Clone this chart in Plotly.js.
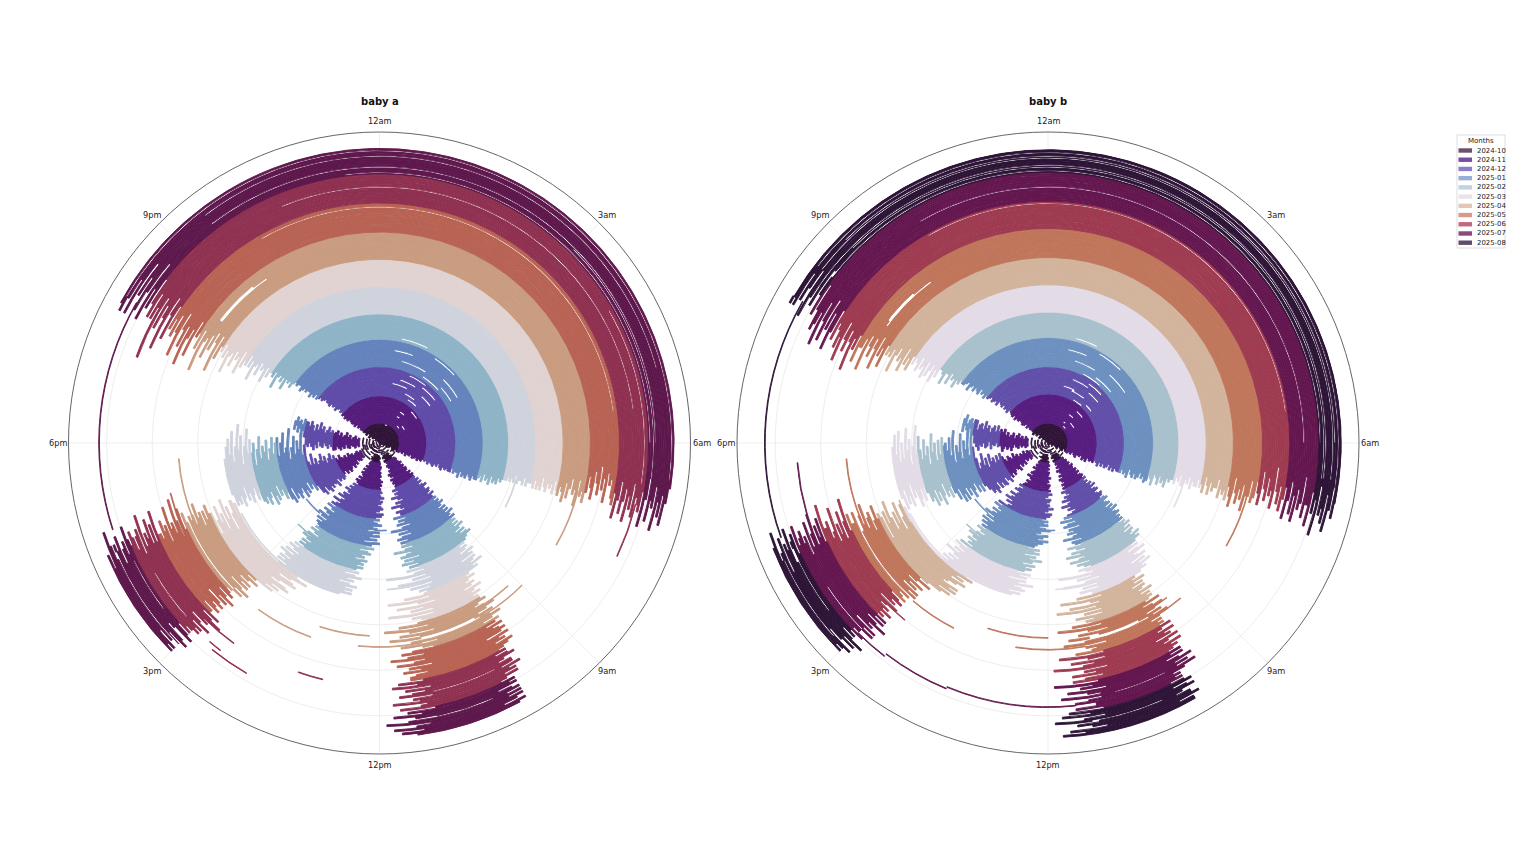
<!DOCTYPE html>
<html>
<head>
<meta charset="utf-8">
<script src="https://cdn.plot.ly/plotly-3.0.1.min.js"></script>
<style>html,body{margin:0;background:#fff}#chart{width:1536px;height:864px}</style>
</head>
<body>
<div id="chart"></div>
<script>
// one ring per day, rows read every 2 days, clock hours in tenths
const months = ['2024-10','2024-11','2024-12','2025-01','2025-02','2025-03','2025-04','2025-05','2025-06','2025-07','2025-08'];
const legendColors = ['#6b5068','#7a4a9f','#8b7fc9','#98b0d8','#c2d2e0','#e8e4ec','#e3c8b8','#d89a88','#c06a80','#8b4a7c','#5f4d6a'];
const hourVals = [0,3,6,9,12,15,18,21];
const hourText = ['12am','3am','6am','9am','12pm','3pm','6pm','9pm'];
const nap12FirstDay = 14;
const nap34FirstDay = 22;
const hairlineFromDay = 255;

const aMonthEnd = [22,52,84,114,142,171,202,232,263,295,400];
const aColors = ['#2f1437','#541c7c','#5f4ba8','#6482bc','#8fb3c7','#cfd3dc','#e0d3d1','#c99c80','#b86354','#8f3151','#5e184c'];
const aNightStart = [203,206,198,208,201,205,197,207,200,204,202,
204,203,205,203,206,202,204,203,204,205,203,204,203,205,204,
206,205,207,206,204,206,205,206,204,205,205,206,205,204,205,
204,203,205,203,204,202,204,204,203,204,203,202,204,204,203,204,
203,201,203,202,203,199,203,201,203,202,198,203,201,202,
202,200,203,198,202,201,203,199,202,201,197,202,200,203,200,
201,199,203,197,201,200,202,198,201,200,196,201,199,202,200,
201,198,203,195,201,203,199,202,197,201,200,194,202,198,201,
200,203,196,201,199,194,201,197,200,203,195,199,202,198,201,
199,203,197,201,204,195,200,202,198,203,193,201,199,203,199,
201,205,200,203,198,207,202,199,204,201,206,198,203,200,198,199];
const aNightEnd = [80,76,79,73,82,77,72,76,81,75,78,
78,75,77,74,78,75,76,74,77,76,75,77,75,76,74,
75,74,76,74,75,76,74,75,73,75,76,74,75,74,75,
75,73,75,74,74,76,73,75,74,75,73,74,75,73,74,74,
73,72,74,71,73,72,74,71,73,72,73,71,72,71,
71,71,70,71,70,71,69,71,70,70,71,69,71,70,70,
70,71,69,71,70,71,68,70,71,69,70,69,71,68,70,
71,69,70,72,68,71,69,67,70,69,72,67,70,69,71,
69,66,68,70,65,67,69,64,68,66,70,65,67,66,69,
70,68,72,69,66,71,69,67,72,68,70,66,71,68,69,
70,67,72,68,65,71,68,69,66,72,68,70,67,71,68,66];
const aNap1Start = [92,94,90,93,
89,88,90,89,87,90,88,90,88,89,91,88,90,88,89,
89,90,88,90,88,91,89,87,90,90,88,89,91,88,90,
90,89,91,89,90,88,90,92,89,91,89,91,88,90,91,89,
91,90,92,90,92,89,91,93,90,92,90,89,91,92,
93,95,93,94,96,92,94,93,97,93,94,95,92,95,94,
97,98,96,98,99,97,98,100,96,98,99,97,99,98,98,
98,97,99,100,98,96,98,100,97,99,98,96,98,100,97,
98,100,97,99,98,97,98,101,97,99,98,100,97,98,99,
100,99,101,99,98,100,101,99,99,101,98,100,99,101,99,
101,102,100,101,100,103,101,100,102,100,102,100,101,103,100,101];
const aNap1End = [110,113,107,111,
108,106,109,107,105,108,106,110,108,105,109,107,108,106,107,
107,110,106,109,107,112,108,105,110,107,113,108,106,111,109,
109,113,107,111,108,112,106,110,115,108,112,107,111,113,109,112,
110,112,108,111,115,109,111,113,107,112,109,113,108,111,
108,112,107,110,118,107,111,106,115,109,106,112,107,110,108,
109,114,108,118,111,107,116,110,113,108,118,108,113,111,110,
112,116,110,119,114,109,116,112,118,110,114,109,116,112,110,
114,116,112,115,118,112,114,117,111,115,113,116,112,114,115,
115,113,117,114,118,112,116,113,115,117,112,115,114,118,113,
114,117,112,116,114,118,115,112,116,119,113,115,118,114,117,115];
const aNap2Start = [120,118,121,119,
118,119,117,118,120,118,119,118,120,119,117,119,118,120,119,
119,118,120,119,117,120,118,119,121,119,118,120,122,118,119,
122,120,123,121,119,123,121,125,120,123,120,124,121,126,120,123,
125,122,127,124,123,126,125,128,124,126,125,127,125,127,
128,126,130,127,125,129,127,131,128,126,129,127,129,127,130,
141,143,138,142,145,141,140,144,146,142,141,145,143,146,144,
148,150,147,149,151,148,150,148,152,149,147,150,148,150,151,
150,149,152,150,148,151,149,153,150,149,151,150,149,152,150,
150,148,151,149,147,150,149,152,150,148,151,149,150,149,150,
151,150,152,150,149,152,153,150,149,152,150,151,153,150,151,150];
const aNap2End = [136,134,138,135,
137,138,136,140,137,141,138,141,139,137,141,138,142,140,138,
142,140,143,141,145,142,140,144,143,146,141,143,147,142,144,
146,143,147,144,142,147,145,143,148,146,143,147,144,146,145,144,
145,143,146,144,142,146,144,147,145,143,146,144,146,144,
147,145,148,146,144,148,145,149,147,145,148,146,148,145,147,
165,161,166,163,159,165,162,167,160,164,162,166,163,160,165,
165,167,164,166,163,166,165,168,164,166,165,166,164,165,167,
164,168,163,166,170,164,166,165,169,163,166,165,167,164,165,
165,169,164,167,164,168,165,166,164,169,163,167,166,164,166,
167,165,166,168,164,166,165,163,167,165,166,164,166,168,163,165];
const aNap3Start = [151,153,150,152,155,150,152,149,153,151,149,152,150,154,152,
150,149,151,150,153,148,151,152,150,152,149,151,154,150,152,
157,155,159,157,161,156,158,155,160,158,156,159,157,162,156,158,
161,159,163,161,165,160,162,159,164,162,160,163,161,162,
165,163,167,165,163,166,164,168,165,163,166,164,165,164,167];
const aNap3End = [166,164,167,165,163,166,165,168,164,167,165,166,169,165,167,
170,167,172,169,166,171,168,173,169,167,171,168,174,168,170,
179,174,185,177,181,175,183,178,173,186,178,176,184,180,175,182,
180,176,182,178,174,181,177,179,175,182,178,173,180,177,
181,177,184,179,174,182,178,185,179,175,183,177,181,179,176];
const aNap4Start = [173,176,172,175,177,173,174,178,174,176,173,175,177,174,174,
177,179,176,178,180,177,178,181,177,179,176,178,180,178,179,
183,186,183,187,185,188,186];
const aNap4End = [189,186,191,188,185,190,187,192,188,186,190,187,191,189,188,
190,188,192,189,187,191,189,193,188,191,187,190,192,189,191,
191,192,189,191,190,192,190];
const aExtras = [[0,60,200],[1,90,130],[2,80,125],[3,140,190],[4,100,150],[5,60,95],[6,120,185],[7,150,195],[8,85,125],[9,130,175],[10,100,160],[11,160,195],[12,85,115],[13,125,150],[14,160,192],[15,70,85],[16,145,175],[17,125,140],[18,165,192],[19,80,90],[20,140,168],
[96,117,122],[126,142,150],[101,147,155],[170,145,162],[175,140,166],[224,69,80],[289,69,77],[155,70,78],[161,105,118],
[221,165,177],[226,133,144],[212,122,132],[224,112,124],[221,90,99],[211,92,100],[236,163,171],
[292,140,146],[267,129,133],[287,145,147],[272,144,150],[308,168,200]];
const aBreaks = [[40,262,268],[48,270,278],[56,262,270],[60,258,266],[68,268,276],[66,248,258],[72,252,262],[76,265,275],[80,256,266],[86,262,272],[92,250,262],[98,270,280],[102,246,254],[90,272,280],[110,262,272],[116,248,258],[30,275,282],[34,262,266],[26,270,276],[20,250,256],
[320,200,305],[314,215,290],[303,215,300],[297,235,300],[281,225,295],[258,220,295],[300,270,310],[290,280,306],
[218,205,217],[219,205,217],[220,205,214],[219,101,112],[220,100,118],[221,100,115],[226,150,168],[227,152,165],[306,104,116],[312,150,165],[298,155,163],[285,152,160],[278,102,112]];

const bMonthEnd = [22,53,84,115,143,174,204,236,265,297,400];
const bColors = ['#2f1437','#571d80','#614fa9','#6c90bf','#a8c1cd','#e3dbe6','#d2b39c','#c0765b','#9e3b51','#64174f','#2e1538'];
const bNightStart = [205,200,208,203,207,198,209,201,204,199,204,
205,204,206,203,207,204,203,205,206,204,205,203,206,204,205,
206,207,204,206,205,207,205,206,207,204,206,205,204,206,205,
204,205,203,205,204,206,203,204,205,203,205,204,202,205,204,203,
203,204,202,203,200,203,202,204,200,203,203,199,202,203,
203,200,202,198,203,201,199,203,198,201,200,203,199,201,202,
200,202,198,201,199,203,197,200,199,202,200,196,201,199,200,
199,201,196,200,198,202,195,199,201,197,199,201,194,200,198,
198,195,200,197,199,193,198,200,196,198,201,194,198,196,199,
200,197,202,198,195,201,198,203,196,199,202,195,200,198,197,
200,204,199,202,206,200,203,201,198,205,202,200,204,199,200,199];
const bNightEnd = [79,75,81,73,78,83,74,77,80,74,78,
79,76,78,74,77,79,75,76,74,78,76,78,74,76,75,
76,74,75,77,74,76,74,76,75,73,76,74,76,74,75,
75,75,73,75,74,76,72,74,75,73,75,74,72,74,73,75,
74,72,73,75,71,72,74,71,73,72,74,71,72,71,
71,72,70,71,69,72,71,70,71,69,72,70,71,71,69,
71,70,72,68,70,72,69,71,70,70,68,72,70,71,70,
72,69,71,73,67,70,72,69,71,68,73,70,70,67,71,
70,67,69,71,65,68,70,66,69,68,71,64,68,70,67,
71,69,67,72,69,66,71,68,72,67,70,69,65,71,69,
69,72,67,70,68,73,66,70,69,71,67,72,69,66,70,68];
const bNap1Start = [93,91,94,92,
89,90,88,90,88,91,87,89,90,88,90,88,91,89,88,
90,88,91,89,91,88,90,87,91,89,88,91,90,88,89,
91,89,88,91,90,89,92,89,91,88,91,90,89,91,90,91,
90,92,90,91,89,92,90,93,90,91,92,89,91,90,
92,94,92,96,93,91,95,94,92,97,93,95,92,95,94,
96,98,99,96,99,97,100,97,98,99,96,99,97,98,97,
98,99,96,100,98,96,98,100,97,99,96,98,100,98,99,
98,99,97,99,100,97,99,98,101,97,99,100,97,99,98,
99,100,98,100,98,101,99,97,100,98,100,97,99,101,100,
101,100,102,100,99,102,100,99,101,102,100,100,99,102,100,100];
const bNap1End = [109,112,106,110,
107,108,105,108,104,109,106,104,108,105,109,107,105,108,106,
108,106,110,107,105,109,107,111,106,108,112,107,109,105,107,
110,112,108,114,107,111,113,106,111,109,112,108,110,114,107,111,
110,108,113,110,107,112,109,114,108,110,113,107,111,109,
107,111,109,107,117,108,112,106,110,116,107,111,107,112,109,
109,113,107,117,110,108,115,109,118,108,112,108,114,110,112,
111,115,109,118,112,108,114,110,116,109,113,117,109,113,111,
112,115,110,118,113,110,116,112,114,119,110,114,112,116,111,
114,116,112,119,113,115,111,117,114,112,118,112,114,116,113,
113,116,112,117,114,118,112,115,119,113,116,114,112,117,115,118];
const bNap2Start = [121,119,122,118,
119,117,120,118,121,118,119,120,117,120,119,121,118,119,120,
118,120,117,120,122,118,119,121,119,120,117,120,122,118,119,
121,123,120,122,120,124,121,119,123,125,120,122,124,120,122,124,
125,127,123,125,123,128,124,126,122,125,128,124,127,125,
127,129,125,128,126,131,126,128,124,129,127,126,130,127,129,
141,139,143,141,144,140,142,144,145,141,143,141,145,142,144,
147,149,146,149,151,147,150,148,151,147,149,147,150,148,150,
149,148,151,149,148,150,149,152,148,150,151,149,150,148,150,
149,150,148,150,148,151,149,147,150,149,152,148,150,148,150,
150,151,149,151,150,152,150,148,151,149,151,153,149,150,151,150];
const bNap2End = [135,137,132,136,
138,136,139,137,141,136,138,140,137,142,138,136,140,138,140,
141,143,139,142,144,140,141,145,141,143,146,141,144,140,142,
147,144,148,145,143,147,144,146,149,144,147,143,148,145,147,144,
146,144,147,145,143,146,144,148,146,144,147,145,146,144,
148,145,149,147,145,148,146,150,147,145,148,146,149,147,148,
164,160,165,162,159,166,161,164,160,163,167,162,165,159,164,
165,164,167,164,162,166,165,163,168,164,166,163,165,167,165,
165,167,164,170,166,163,168,164,166,163,169,165,164,167,166,
166,170,164,168,165,167,164,169,166,164,168,163,166,165,167,
166,165,168,164,167,166,163,168,165,166,162,167,165,164,168,166];
const bNap3Start = [152,150,154,152,156,150,153,151,155,149,152,154,152,150,153,
150,152,148,151,154,149,150,153,150,155,151,149,152,151,154,
157,159,155,159,156,161,158,155,160,157,161,156,159,156,162,158,
161,164,160,163,161,166,162,159,164,161,165,160,163,162,
165,167,163,167,164,162,167,165,169,163,166,164,168,163,166];
const bNap3End = [165,167,163,168,164,166,163,167,165,169,164,166,168,164,166,
169,172,167,171,166,170,168,173,165,171,167,174,169,166,172,
178,183,174,186,177,181,173,184,176,179,172,185,175,182,177,180,
179,182,176,181,174,180,177,183,173,179,176,181,175,178,
182,177,185,179,174,181,178,184,176,180,175,183,177,182,179];
const bNap4Start = [174,172,176,174,177,173,175,178,175,172,176,174,177,175,173,
178,177,180,178,179,176,181,178,177,180,178,179,176,178,180,
184,183,187,184,186,188,185];
const bNap4End = [188,191,186,190,187,192,189,185,191,188,186,190,187,192,189,
191,189,193,188,192,190,187,191,189,193,188,191,190,187,192,
192,190,192,191,189,193,191];
const bExtras = [[0,70,205],[1,95,135],[2,85,120],[3,145,192],[4,105,148],[5,65,90],[6,125,182],[7,152,198],[8,88,122],[9,128,172],[10,105,158],[11,162,192],[12,90,112],[13,120,148],[14,163,188],[15,72,88],[16,148,172],[17,128,142],[18,168,192],[19,82,92],[20,143,165],
[96,117,122],[126,142,150],[101,147,155],[170,145,162],[175,140,166],[226,69,80],[155,70,78],[161,105,118],
[224,93,100],[214,95,100],[222,165,177],[228,138,147],[214,120,132],[227,113,126],[276,169,177],[250,146,153],
[290,116,135],[292,135,145],[295,145,150],[311,167,200]];
const bBreaks = [[38,264,270],[46,268,276],[54,260,268],[62,256,266],[58,270,276],[70,266,274],[64,250,258],[74,254,264],[78,263,272],[84,258,268],[88,264,274],[94,252,262],[100,268,278],[104,248,256],[112,260,270],[118,250,258],[32,272,280],[28,264,268],[24,268,274],
[322,200,310],[319,205,310],[315,210,300],[312,205,305],[305,200,305],[302,210,305],[298,205,300],[281,220,300],[262,220,295],
[218,205,216],[219,204,216],[220,205,212],[219,102,112],[220,100,116],[221,100,114],[226,150,166],[227,152,164],[308,104,114],[316,152,164],[303,155,165],[288,150,158],[282,102,110]];

// hours come in tenths; night runs past midnight so its end gets +240
function rowSpans(day, nightStart, nightEnd, nap1S, nap1E, nap2S, nap2E, nap3S, nap3E, nap4S, nap4E) {
    const i = day / 2;
    const spans = [[nightStart[i], nightEnd[i] + 240]];
    const j = (day - nap12FirstDay) / 2;
    const k = (day - nap34FirstDay) / 2;
    if (j >= 0) { spans.push([nap1S[j], nap1E[j]]); spans.push([nap2S[j], nap2E[j]]); }
    if (k >= 0 && k < nap3S.length) spans.push([nap3S[k], nap3E[k]]);
    if (k >= 0 && k < nap4S.length) spans.push([nap4S[k], nap4E[k]]);
    return spans;
}

// a wake on either day of a 2-day row opens the whole row
function cut(spans, breaks, day) {
    let out = spans;
    breaks.filter(b => b[0] === day || b[0] === day + 1).forEach(b => {
        const next = [];
        out.forEach(([s, e]) => {
            if (b[2] <= s || b[1] >= e) { next.push([s, e]); return; }
            if (b[1] > s) next.push([s, b[1]]);
            if (b[2] < e) next.push([b[2], e]);
        });
        out = next;
    });
    return out;
}

function babyTraces(subplot, colors, monthEnd, nightStart, nightEnd, nap1S, nap1E, nap2S, nap2E, nap3S, nap3E, nap4S, nap4E, extras, breaks) {
    const buckets = months.map(() => ({r: [], base: [], theta: [], width: []}));
    const add = (day, s, e, h) => {
        const m = monthEnd.findIndex(v => day < v);
        const bk = buckets[m];
        bk.r.push(h);
        bk.base.push(day);
        bk.theta.push(((s + e) / 2 / 10 * 15) % 360);
        bk.width.push((e - s) / 10 * 15);
    };
    nightStart.forEach((_, i) => {
        const day = i * 2;
        const spans = rowSpans(day, nightStart, nightEnd, nap1S, nap1E, nap2S, nap2E, nap3S, nap3E, nap4S, nap4E);
        cut(spans, breaks, day).forEach(([s, e]) => add(day, s, e, 2));
        // outer months: the wake only took one day of the row, so half the row stays filled
        if (day >= hairlineFromDay) {
            breaks.filter(b => b[0] === day || b[0] === day + 1).forEach(b => spans.forEach(([s, e]) => {
                const lo = Math.max(s, b[1]), hi = Math.min(e, b[2]);
                if (hi > lo) add(day, lo, hi, 0.5);
            }));
        }
    });
    extras.forEach(x => add(x[0], x[1], x[2], 0.8));
    return buckets.map((bk, m) => ({
        type: 'barpolar', subplot: subplot, r: bk.r, base: bk.base, theta: bk.theta, width: bk.width,
        marker: {color: colors[m], opacity: 1, line: {color: colors[m], width: 0.9}},
        hoverinfo: 'skip', showlegend: false
    }));
}

const traces = [
    ...babyTraces('polar', aColors, aMonthEnd, aNightStart, aNightEnd, aNap1Start, aNap1End, aNap2Start, aNap2End, aNap3Start, aNap3End, aNap4Start, aNap4End, aExtras, aBreaks),
    ...babyTraces('polar2', bColors, bMonthEnd, bNightStart, bNightEnd, bNap1Start, bNap1End, bNap2Start, bNap2End, bNap3Start, bNap3End, bNap4Start, bNap4End, bExtras, bBreaks)
];

const polarStyle = cx => ({
    domain: {x: [(cx - 311) / 1536, (cx + 311) / 1536], y: [(864 - 443 - 311) / 864, (864 - 443 + 311) / 864]},
    bgcolor: '#fff',
    barmode: 'overlay',
    radialaxis: {range: [0, 342], tickvals: [50,100,150,200,250,300], showticklabels: false, ticks: '', showline: false, gridcolor: '#eeeeee', gridwidth: 0.8, layer: 'below traces'},
    angularaxis: {rotation: 90, direction: 'clockwise', tickmode: 'array', tickvals: hourVals.map(h => h * 15), showticklabels: false, ticks: '', linecolor: '#666', linewidth: 1, gridcolor: '#eeeeee', gridwidth: 0.8, layer: 'below traces'}
});

// hour labels sit on a circle 322px from each centre, legend is compact like the source
const centres = [379.5, 1048];
const annotations = [];
const shapes = [];
const note = (text, x, y, size, anchor, color) => annotations.push({
    text: text, x: x / 1536, y: 1 - y / 864, xref: 'paper', yref: 'paper', xanchor: anchor, yanchor: 'middle',
    showarrow: false, font: {size: size, color: color}
});
['<b>baby a</b>', '<b>baby b</b>'].forEach((t, c) => note(t, centres[c], 101, 10, 'center', '#111'));
centres.forEach(cx => hourVals.forEach((h, i) => {
    const a = h * 15 * Math.PI / 180;
    note(hourText[i], cx + 322 * Math.sin(a), 443 - 322 * Math.cos(a), 8.2, 'center', '#222');
}));
const box = (x0, x1, y0, y1, fill, line) => shapes.push({
    type: 'rect', xref: 'paper', yref: 'paper', x0: x0 / 1536, x1: x1 / 1536, y0: 1 - y0 / 864, y1: 1 - y1 / 864,
    fillcolor: fill, line: {color: line, width: line === 'rgba(0,0,0,0)' ? 0 : 1}
});
box(1457, 1505, 135, 248, '#fff', '#dddddd');
note('Months', 1481, 141, 7, 'center', '#222');
months.forEach((m, i) => {
    const y = 150.5 + 9.22 * i;
    box(1458.5, 1472, y - 2.2, y + 2.2, legendColors[i], 'rgba(0,0,0,0)');
    note(m, 1474.5, y, 6.9, 'left', '#222');
});

const layout = {
    width: 1536, height: 864, margin: {l: 0, r: 0, t: 0, b: 0},
    paper_bgcolor: '#fff',
    font: {family: 'DejaVu Sans', color: '#222'},
    showlegend: false,
    polar: polarStyle(379.5),
    polar2: polarStyle(1048),
    annotations: annotations,
    shapes: shapes
};

Plotly.newPlot('chart', traces, layout, {displayModeBar: false});
</script>
</body>
</html>
